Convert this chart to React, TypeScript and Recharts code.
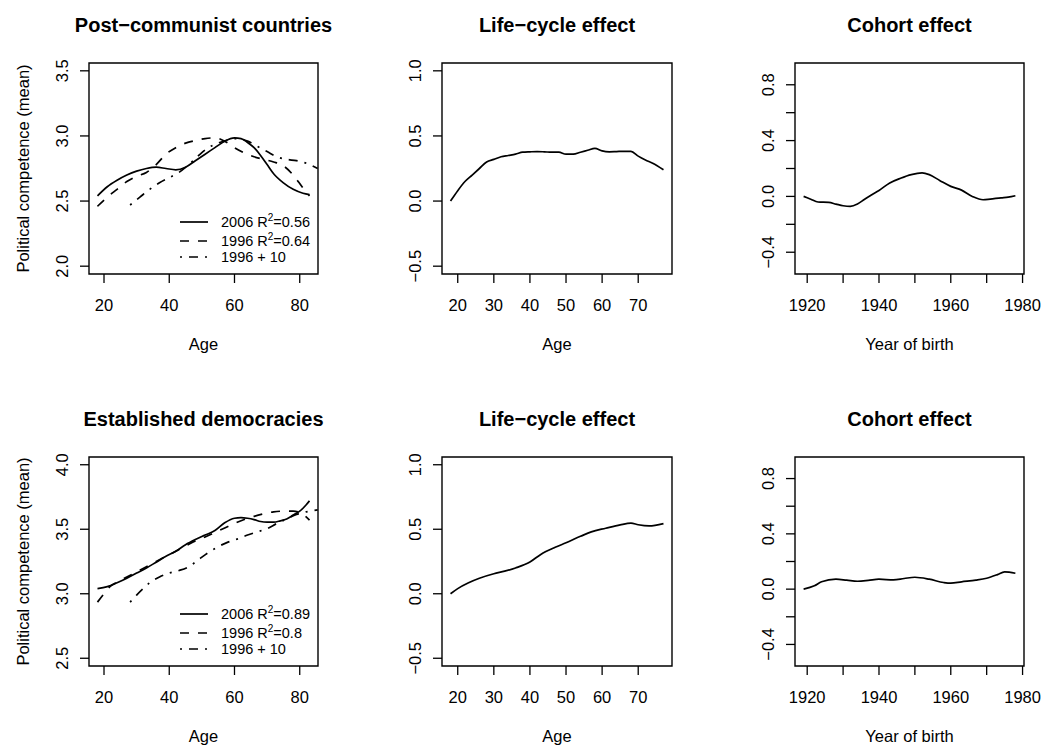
import React from "react";
import { LineChart, Line, XAxis, YAxis, ReferenceArea } from "recharts";

const FONT = '"Liberation Sans", Arial, Helvetica, sans-serif';

// ---- Post-communist countries ----
const pcAge2006 = [18, 21, 24, 27, 30, 33, 36, 39, 42, 45, 48, 51, 54, 57, 60, 62, 64, 66, 68, 70, 72, 75, 78, 81, 83];
const pc2006 = [2.54, 2.61, 2.66, 2.7, 2.73, 2.75, 2.76, 2.75, 2.74, 2.76, 2.81, 2.86, 2.91, 2.96, 2.985, 2.98, 2.95, 2.91, 2.85, 2.78, 2.71, 2.64, 2.59, 2.56, 2.55];
const pcAge1996 = [18, 21, 24, 27, 30, 33, 36, 39, 42, 45, 48, 51, 54, 57, 60, 63, 66, 69, 72, 75, 78, 81, 83];
const pc1996 = [2.46, 2.53, 2.59, 2.65, 2.69, 2.72, 2.78, 2.86, 2.91, 2.945, 2.965, 2.98, 2.985, 2.96, 2.91, 2.87, 2.84, 2.82, 2.8, 2.77, 2.7, 2.6, 2.54];
const pcAgeShift = [28, 31, 34, 37, 40, 43, 46, 49, 52, 55, 58, 61, 64, 67, 70, 73, 76, 79, 82, 85.5];
const pcShift = [2.47, 2.53, 2.59, 2.64, 2.68, 2.72, 2.78, 2.85, 2.91, 2.945, 2.97, 2.98, 2.96, 2.92, 2.88, 2.84, 2.82, 2.81, 2.79, 2.75];

const pcLifeAge = [18, 20, 22, 24, 26, 28, 30, 32, 34, 36, 38, 40, 42, 44, 46, 48, 50, 52, 54, 56, 58, 60, 62, 64, 66, 68, 70, 72, 74, 77];
const pcLife = [0, 0.08, 0.15, 0.2, 0.25, 0.3, 0.32, 0.34, 0.35, 0.36, 0.375, 0.378, 0.38, 0.378, 0.375, 0.375, 0.36, 0.36, 0.375, 0.39, 0.405, 0.385, 0.378, 0.38, 0.382, 0.382, 0.345, 0.315, 0.29, 0.24];

const pcCohortYear = [1919, 1921, 1923, 1926, 1928, 1930, 1932, 1934, 1936, 1938, 1940, 1943, 1946, 1949, 1952, 1954, 1957, 1960, 1963, 1966, 1969, 1971, 1974, 1976, 1978];
const pcCohort = [0, -0.02, -0.04, -0.043, -0.055, -0.067, -0.072, -0.055, -0.02, 0.012, 0.043, 0.096, 0.13, 0.156, 0.168, 0.156, 0.113, 0.072, 0.045, 0.0, -0.024, -0.019, -0.01, -0.005, 0.005];

// ---- Established democracies ----
const edAge2006 = [18, 21, 24, 27, 30, 33, 36, 39, 42, 45, 48, 51, 54, 57, 60, 62, 64, 66, 68, 70, 72, 74, 76, 78, 80, 82, 83];
const ed2006 = [3.04, 3.055, 3.085, 3.12, 3.16, 3.2, 3.245, 3.29, 3.33, 3.38, 3.42, 3.455, 3.49, 3.55, 3.585, 3.59, 3.585, 3.575, 3.56, 3.555, 3.555, 3.565, 3.58, 3.61, 3.64, 3.69, 3.72];
const edAge1996 = [18, 20, 22, 24, 27, 30, 33, 36, 39, 42, 45, 48, 51, 54, 57, 60, 63, 66, 69, 72, 75, 78, 80, 83];
const ed1996 = [2.935, 3.0, 3.06, 3.09, 3.13, 3.17, 3.21, 3.25, 3.29, 3.33, 3.37, 3.41, 3.44, 3.475, 3.51, 3.545, 3.575, 3.6, 3.62, 3.635, 3.64, 3.64, 3.63, 3.57];
const edAgeShift = [28, 30, 32, 34, 37, 40, 43, 46, 49, 52, 55, 58, 61, 64, 67, 70, 73, 76, 79, 82, 85.5];
const edShift = [2.935, 2.99, 3.04, 3.085, 3.13, 3.16, 3.18, 3.21, 3.265, 3.32, 3.365, 3.4, 3.425, 3.455, 3.48, 3.505, 3.545, 3.58, 3.615, 3.635, 3.65];

const edLifeAge = [18, 20, 23, 26, 30, 33, 36, 40, 43, 47, 50, 54, 57, 61, 65, 68, 70, 73, 77];
const edLife = [0, 0.04, 0.085, 0.12, 0.155, 0.175, 0.2, 0.246, 0.305, 0.36, 0.395, 0.445, 0.48, 0.508, 0.534, 0.547, 0.535, 0.526, 0.544];

const edCohortYear = [1919, 1922, 1924, 1928, 1931, 1934, 1937, 1940, 1944, 1947, 1950, 1954, 1958, 1960, 1963, 1967, 1970, 1973, 1975, 1978];
const edCohort = [0, 0.024, 0.053, 0.072, 0.065, 0.057, 0.063, 0.072, 0.067, 0.077, 0.086, 0.072, 0.048, 0.043, 0.053, 0.065, 0.079, 0.105, 0.125, 0.115];

// ---- axes ----
const ageTicks = [20, 40, 60, 80];
const ageLabels = ["20", "40", "60", "80"];
const lifeAgeTicks = [20, 30, 40, 50, 60, 70];
const lifeAgeLabels = ["20", "30", "40", "50", "60", "70"];
const yearTicks = [1920, 1930, 1940, 1950, 1960, 1970, 1980];
const yearLabels = ["1920", "", "1940", "", "1960", "", "1980"];
const pcTicks = [2.0, 2.5, 3.0, 3.5];
const pcLabels = ["2.0", "2.5", "3.0", "3.5"];
const edTicks = [2.5, 3.0, 3.5, 4.0];
const edLabels = ["2.5", "3.0", "3.5", "4.0"];
const lifeTicks = [-0.5, 0, 0.5, 1.0];
const lifeLabels = ["\u22120.5", "0.0", "0.5", "1.0"];
const cohortTicks = [-0.4, -0.2, 0, 0.2, 0.4, 0.6, 0.8];
const cohortLabels = ["\u22120.4", "", "0.0", "", "0.4", "", "0.8"];

const pcLegendR2 = ["0.56", "0.64"];
const edLegendR2 = ["0.89", "0.8"];

type Pt = { x: number; y: number };
const zip = (xs: number[], ys: number[]): Pt[] => xs.map((x, i) => ({ x, y: ys[i] }));

const SOLID = undefined;
const DASHED = "9 9";
const DASHDOT = "2 7 9 7";

const YW = 88;
const XH = 84;
const MT = 8;
const MR = 30;
const TXT = 16.5;

interface Series {
  data: Pt[];
  dash?: string;
}

interface PanelProps {
  boxLeft: number;
  boxTop: number;
  boxW: number;
  boxH: number;
  title: string;
  xTitle: string;
  yTitle?: string;
  xDomain: [number, number];
  yDomain: [number, number];
  xTicks: number[];
  xLabels: string[];
  yTicks: number[];
  yLabels: string[];
  series: Series[];
  r2?: string[];
}

const Legend: React.FC<{ boxLeft: number; boxBottom: number; r2: string[] }> = ({ boxLeft, boxBottom, r2 }) => {
  const rows = [
    { dash: SOLID, dy: -52, label: <>2006 R<sup style={{ fontSize: 10, lineHeight: 0 }}>2</sup>={r2[0]}</> },
    { dash: DASHED, dy: -33, label: <>1996 R<sup style={{ fontSize: 10, lineHeight: 0 }}>2</sup>={r2[1]}</> },
    { dash: DASHDOT, dy: -17, label: <>1996 + 10</> },
  ];
  return (
    <>
      {rows.map((r, i) => (
        <div
          key={i}
          style={{
            position: "absolute",
            left: boxLeft + 91,
            top: boxBottom + r.dy - 10,
            height: 20,
            display: "flex",
            alignItems: "center",
            fontFamily: FONT,
            fontSize: 14.5,
            color: "#000",
            whiteSpace: "nowrap",
          }}
        >
          <svg width={28} height={4} style={{ display: "block" }}>
            <line x1={0} y1={2} x2={28} y2={2} stroke="#000" strokeWidth={1.7} strokeDasharray={r.dash} />
          </svg>
          <span style={{ marginLeft: 13 }}>{r.label}</span>
        </div>
      ))}
    </>
  );
};

const Panel: React.FC<PanelProps> = (p) => {
  const W = YW + p.boxW + MR;
  const H = MT + p.boxH + XH;
  const xTick = (props: any) => {
    const i = p.xTicks.indexOf(props.payload.value);
    return (
      <text x={props.x} y={props.y} dy="0.71em" textAnchor="middle" fontSize={TXT} fontFamily={FONT} fill="#000">
        {p.xLabels[i]}
      </text>
    );
  };
  const yTick = (props: any) => {
    const i = p.yTicks.indexOf(props.payload.value);
    return (
      <text
        x={props.x}
        y={props.y}
        textAnchor="middle"
        fontSize={TXT}
        fontFamily={FONT}
        fill="#000"
        transform={`rotate(-90, ${props.x}, ${props.y})`}
      >
        {p.yLabels[i]}
      </text>
    );
  };
  const xLabel = (props: any) => {
    const vb = props.viewBox;
    return (
      <text x={vb.x + vb.width / 2} y={vb.y + 76} textAnchor="middle" fontSize={TXT} fontFamily={FONT} fill="#000">
        {p.xTitle}
      </text>
    );
  };
  const yLabel = (props: any) => {
    const vb = props.viewBox;
    const cx = vb.x + 28;
    const cy = vb.y + vb.height / 2;
    return (
      <text x={cx} y={cy} textAnchor="middle" fontSize={TXT} fontFamily={FONT} fill="#000" transform={`rotate(-90, ${cx}, ${cy})`}>
        {p.yTitle}
      </text>
    );
  };

  return (
    <>
      <div
        style={{
          position: "absolute",
          left: p.boxLeft + p.boxW / 2 - 200,
          top: p.boxTop - 48.5,
          width: 400,
          height: 20,
          lineHeight: "20px",
          textAlign: "center",
          fontFamily: FONT,
          fontWeight: "bold",
          fontSize: 20,
          color: "#000",
        }}
      >
        {p.title}
      </div>
      <div style={{ position: "absolute", left: p.boxLeft - YW, top: p.boxTop - MT, width: W, height: H }}>
        <LineChart width={W} height={H} margin={{ top: MT, right: MR, bottom: 0, left: 0 }}>
          <XAxis
            type="number"
            dataKey="x"
            domain={p.xDomain}
            ticks={p.xTicks}
            interval={0}
            allowDataOverflow
            axisLine={false}
            tickLine={{ stroke: "#000", strokeWidth: 1.3 }}
            tickSize={9}
            tickMargin={16}
            height={XH}
            tick={xTick}
            label={xLabel}
          />
          <YAxis
            type="number"
            dataKey="y"
            domain={p.yDomain}
            ticks={p.yTicks}
            interval={0}
            allowDataOverflow
            axisLine={false}
            tickLine={{ stroke: "#000", strokeWidth: 1.3 }}
            tickSize={9}
            tickMargin={12}
            width={YW}
            tick={yTick}
            label={p.yTitle ? yLabel : undefined}
          />
          <ReferenceArea
            x1={p.xDomain[0]}
            x2={p.xDomain[1]}
            y1={p.yDomain[0]}
            y2={p.yDomain[1]}
            fill="none"
            fillOpacity={0}
            stroke="#000"
            strokeWidth={1.4}
            ifOverflow="visible"
          />
          {p.series.map((s, i) => (
            <Line
              key={i}
              data={s.data}
              dataKey="y"
              type="monotone"
              stroke="#000"
              strokeWidth={1.7}
              strokeDasharray={s.dash}
              dot={false}
              activeDot={false}
              isAnimationActive={false}
            />
          ))}
        </LineChart>
      </div>
      {p.r2 && <Legend boxLeft={p.boxLeft} boxBottom={p.boxTop + p.boxH} r2={p.r2} />}
    </>
  );
};

const colLeft = [89, 442, 795];
const colW = [229, 230, 229];
const rowTop = [63, 457];
const rowH = [211, 209];

const App: React.FC = () => {
  return (
    <div
      style={{
        position: "absolute",
        left: 0,
        top: 0,
        width: 1041,
        height: 747,
        background: "#fff",
        overflow: "hidden",
      }}
    >
      <Panel
        boxLeft={colLeft[0]}
        boxTop={rowTop[0]}
        boxW={colW[0]}
        boxH={rowH[0]}
        title={"Post\u2212communist countries"}
        xTitle="Age"
        yTitle="Political competence (mean)"
        xDomain={[15.4, 85.6]}
        yDomain={[1.94, 3.56]}
        xTicks={ageTicks}
        xLabels={ageLabels}
        yTicks={pcTicks}
        yLabels={pcLabels}
        series={[
          { data: zip(pcAge2006, pc2006), dash: SOLID },
          { data: zip(pcAge1996, pc1996), dash: DASHED },
          { data: zip(pcAgeShift, pcShift), dash: DASHDOT },
        ]}
        r2={pcLegendR2}
      />
      <Panel
        boxLeft={colLeft[1]}
        boxTop={rowTop[0]}
        boxW={colW[1]}
        boxH={rowH[0]}
        title={"Life\u2212cycle effect"}
        xTitle="Age"
        xDomain={[15.64, 79.36]}
        yDomain={[-0.56, 1.06]}
        xTicks={lifeAgeTicks}
        xLabels={lifeAgeLabels}
        yTicks={lifeTicks}
        yLabels={lifeLabels}
        series={[{ data: zip(pcLifeAge, pcLife) }]}
      />
      <Panel
        boxLeft={colLeft[2]}
        boxTop={rowTop[0]}
        boxW={colW[2]}
        boxH={rowH[0]}
        title="Cohort effect"
        xTitle="Year of birth"
        xDomain={[1916.6, 1980.4]}
        yDomain={[-0.556, 0.956]}
        xTicks={yearTicks}
        xLabels={yearLabels}
        yTicks={cohortTicks}
        yLabels={cohortLabels}
        series={[{ data: zip(pcCohortYear, pcCohort) }]}
      />
      <Panel
        boxLeft={colLeft[0]}
        boxTop={rowTop[1]}
        boxW={colW[0]}
        boxH={rowH[1]}
        title="Established democracies"
        xTitle="Age"
        yTitle="Political competence (mean)"
        xDomain={[15.4, 85.6]}
        yDomain={[2.44, 4.06]}
        xTicks={ageTicks}
        xLabels={ageLabels}
        yTicks={edTicks}
        yLabels={edLabels}
        series={[
          { data: zip(edAge2006, ed2006), dash: SOLID },
          { data: zip(edAge1996, ed1996), dash: DASHED },
          { data: zip(edAgeShift, edShift), dash: DASHDOT },
        ]}
        r2={edLegendR2}
      />
      <Panel
        boxLeft={colLeft[1]}
        boxTop={rowTop[1]}
        boxW={colW[1]}
        boxH={rowH[1]}
        title={"Life\u2212cycle effect"}
        xTitle="Age"
        xDomain={[15.64, 79.36]}
        yDomain={[-0.56, 1.06]}
        xTicks={lifeAgeTicks}
        xLabels={lifeAgeLabels}
        yTicks={lifeTicks}
        yLabels={lifeLabels}
        series={[{ data: zip(edLifeAge, edLife) }]}
      />
      <Panel
        boxLeft={colLeft[2]}
        boxTop={rowTop[1]}
        boxW={colW[2]}
        boxH={rowH[1]}
        title="Cohort effect"
        xTitle="Year of birth"
        xDomain={[1916.6, 1980.4]}
        yDomain={[-0.556, 0.956]}
        xTicks={yearTicks}
        xLabels={yearLabels}
        yTicks={cohortTicks}
        yLabels={cohortLabels}
        series={[{ data: zip(edCohortYear, edCohort) }]}
      />
    </div>
  );
};

export default App;
